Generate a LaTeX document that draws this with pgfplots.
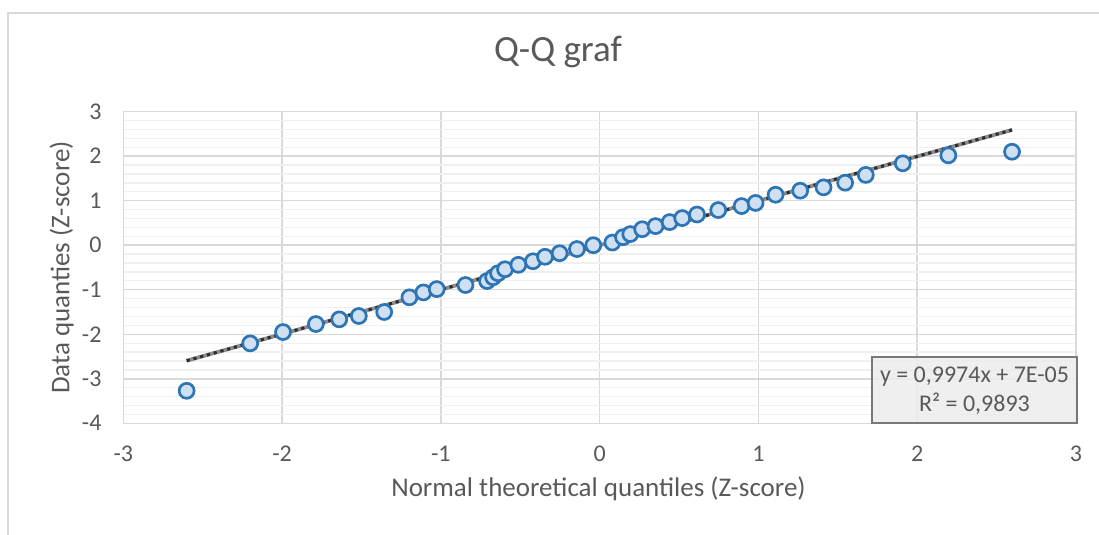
\documentclass[border=0pt]{standalone}
\usepackage{pgfplots}
\pgfplotsset{compat=1.18}
\usepackage{fontspec}
\setmainfont{Carlito}
\definecolor{txt}{RGB}{89,89,89}
\definecolor{majgrid}{RGB}{217,217,217}
\definecolor{mingrid}{RGB}{240,240,240}
\definecolor{mkedge}{RGB}{46,117,182}
\definecolor{mkfill}{RGB}{207,224,243}
\definecolor{trendgray}{RGB}{140,140,140}
\definecolor{trenddark}{RGB}{45,45,45}
\pgfplotstableread{
x y
-2.601 -3.27
-2.201 -2.205
-1.994 -1.95
-1.787 -1.77
-1.640 -1.665
-1.517 -1.59
-1.357 -1.50
-1.198 -1.17
-1.110 -1.06
-1.026 -0.985
-0.845 -0.894
-0.709 -0.805
-0.671 -0.72
-0.640 -0.63
-0.596 -0.54
-0.512 -0.44
-0.420 -0.36
-0.344 -0.26
-0.252 -0.18
-0.143 -0.085
-0.040 0.0
0.080 0.06
0.147 0.18
0.193 0.25
0.268 0.36
0.352 0.43
0.441 0.52
0.520 0.61
0.613 0.69
0.747 0.79
0.894 0.88
0.982 0.95
1.108 1.135
1.263 1.225
1.410 1.30
1.546 1.405
1.676 1.58
1.909 1.84
2.196 2.02
2.597 2.10
}\qqdata
\pgfplotstableread{
x y
-2.601 -2.5942
2.597 2.5903
}\trend
\begin{document}
\begin{tikzpicture}[x=1bp,y=1bp]
\useasboundingbox (0,0) rectangle (1099,535);
\draw[majgrid, line width=2bp] (8,0) -- (8,522) -- (1099,522);
\begin{axis}[
  at={(123.3bp,111.7bp)}, anchor=south west,
  scale only axis, width=952.7bp, height=311.6bp,
  xmin=-3, xmax=3, ymin=-4, ymax=3,
  xtick={-3,-2,-1,0,1,2,3},
  xticklabels={-3,-2,-1,0,1,2,3},
  ytick={-4,-3,-2,-1,0,1,2,3},
  yticklabels={-4,-3,-2,-1,0,1,2,3},
  minor y tick num=4,
  major tick length=0pt, minor tick length=0pt,
  grid=none,
  xmajorgrids=true, ymajorgrids=true, yminorgrids=true,
  major grid style={majgrid, line width=1.5bp},
  minor grid style={mingrid, line width=1.3bp},
  axis line style={majgrid, line width=1.5bp},
  tick label style={font=\fontsize{24bp}{28bp}\selectfont, text=txt},
  xticklabel style={anchor=base, yshift=-38.4bp, inner sep=0pt},
  yticklabel style={anchor=east, xshift=-21.6bp, inner sep=0pt},
  clip=false,
  axis on top=false,
]
\addplot[only marks, mark=*, mark size=7.5bp,
  mark options={draw=mkedge, fill=mkfill, line width=2.7bp}] table[x=x,y=y] {\qqdata};
\addplot[no marks, draw=trendgray, line width=3.8bp] table[x=x,y=y] {\trend};
\addplot[no marks, draw=trenddark, line width=3bp, dash pattern=on 3.2bp off 3.8bp] table[x=x,y=y] {\trend};
\end{axis}
\fill[gray!15, fill opacity=0.85] (872,111.7) rectangle (1077.3,178.3);
\draw[gray!95!black, line width=2bp] (872,111.7) rectangle (1077.3,178.3);
\node[anchor=base, text=txt, inner sep=0pt, font=\fontsize{24bp}{28bp}\selectfont] at (974.5,152) {y = 0,9974x + 7E-05};
\node[anchor=base, text=txt, inner sep=0pt, font=\fontsize{24bp}{28bp}\selectfont] at (974.5,123.3) {R² = 0,9893};
\node[anchor=base, text=txt, inner sep=0pt, font=\fontsize{37bp}{42bp}\selectfont] at (558,473.3) {Q-Q graf};
\node[anchor=base, text=txt, inner sep=0pt, font=\fontsize{27bp}{32bp}\selectfont] at (598.5,38.3) {Normal theoretical quantiles (Z-score)};
\node[anchor=base, rotate=90, text=txt, inner sep=0pt, font=\fontsize{27bp}{32bp}\selectfont] at (69.3,267.5) {Data quanties (Z-score)};
\end{tikzpicture}
\end{document}
